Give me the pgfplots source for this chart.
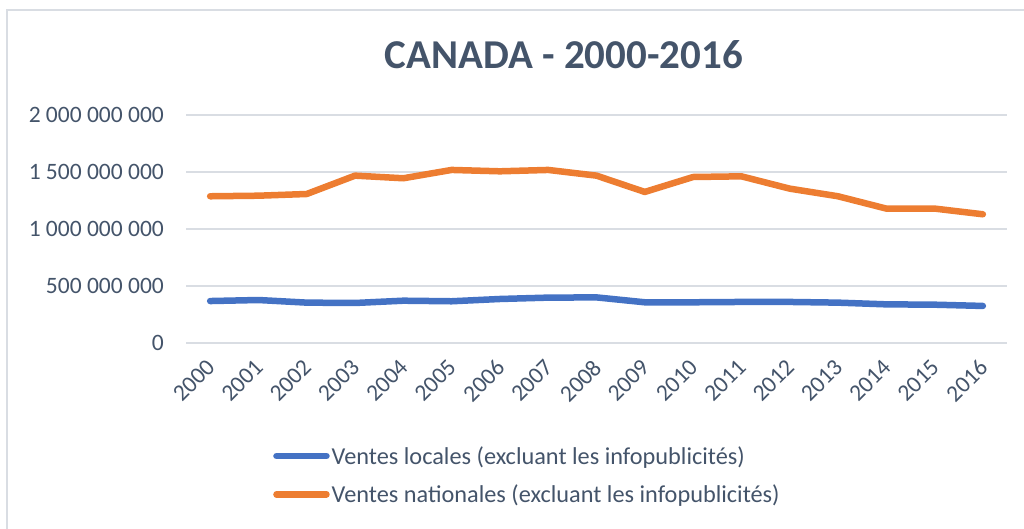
\documentclass[border=0pt]{standalone}
\usepackage{fontspec}
\setmainfont{Carlito}
\usepackage{pgfplots}
\pgfplotsset{compat=1.18}
\definecolor{txt}{HTML}{44546A}
\definecolor{gridc}{HTML}{D9DDE3}
\definecolor{bl}{HTML}{4472C4}
\definecolor{orng}{HTML}{ED7D31}
\newcommand\lbl{\fontsize{23.5bp}{28bp}\selectfont}
\newcommand\leg{\fontsize{24.3bp}{29bp}\selectfont}

\begin{document}
\begin{tikzpicture}[x=1bp,y=1bp]
\useasboundingbox (0,0) rectangle (1024,529);
\draw[gridc, line width=1.2bp] (7,0) -- (7,519) -- (1024,519);
\node[txt, font=\fontsize{41bp}{48bp}\selectfont\bfseries] at (564,474) {CANADA - 2000-2016};
\begin{axis}[
    at={(186bp,186bp)}, anchor=south west,
    scale only axis,
    width=821bp, height=228bp,
    xmin=-0.5, xmax=16.5,
    ymin=0, ymax=2000000000,
    scaled y ticks=false,
    axis x line*=bottom,
    axis y line*=left,
    y axis line style={draw=none},
    x axis line style={gridc, line width=1.2bp},
    ytick={0,500000000,1000000000,1500000000,2000000000},
    yticklabels={0,500 000 000,1 000 000 000,1 500 000 000,2 000 000 000},
    ytick style={draw=none},
    ymajorgrids,
    grid style={gridc, line width=1.2bp},
    xtick={0,...,16},
    xticklabels={2000,2001,2002,2003,2004,2005,2006,2007,2008,2009,2010,2011,2012,2013,2014,2015,2016},
    xtick style={draw=none},
    extra x ticks={-0.5,0.5,...,16.5},
    extra x tick labels={},
    extra x tick style={tick style={draw=gridc, line width=1.2bp}, major tick length=8bp, tick align=outside, grid=none},
    tick label style={font=\lbl, text=txt},
    yticklabel style={anchor=east, inner sep=0pt, xshift=-22bp},
    xticklabel style={xshift=-5bp, yshift=-15bp, rotate=45, anchor=north east, inner sep=0pt},
    legend style={draw=none, fill=none, at={(axis description cs:0.106,-0.444)}, anchor=north west,
        font=\leg, text=txt, row sep=15bp, inner sep=0pt, nodes={inner sep=2bp}},
    legend cell align=left,
    legend image code/.code={\draw[#1, line width=6.5bp, line cap=round] (0bp,0bp) -- (50bp,0bp);},
    clip=false,
]
\addplot[bl, line width=6.5bp, line cap=round, line join=round] coordinates {
(0,368000000) (1,377000000) (2,354000000) (3,351000000) (4,371000000) (5,366000000)
(6,386000000) (7,398000000) (8,400000000) (9,357000000) (10,357000000) (11,360000000)
(12,360000000) (13,354000000) (14,339000000) (15,336000000) (16,325000000)};
\addplot[orng, line width=6.5bp, line cap=round, line join=round] coordinates {
(0,1287000000) (1,1292000000) (2,1307000000) (3,1468000000) (4,1445000000) (5,1518000000)
(6,1506000000) (7,1518000000) (8,1468000000) (9,1325000000) (10,1456000000) (11,1462000000)
(12,1354000000) (13,1287000000) (14,1179000000) (15,1179000000) (16,1129000000)};
\legend{Ventes locales (excluant les infopublicités), Ventes nationales (excluant les infopublicités)}
\end{axis}
\end{tikzpicture}
\end{document}
